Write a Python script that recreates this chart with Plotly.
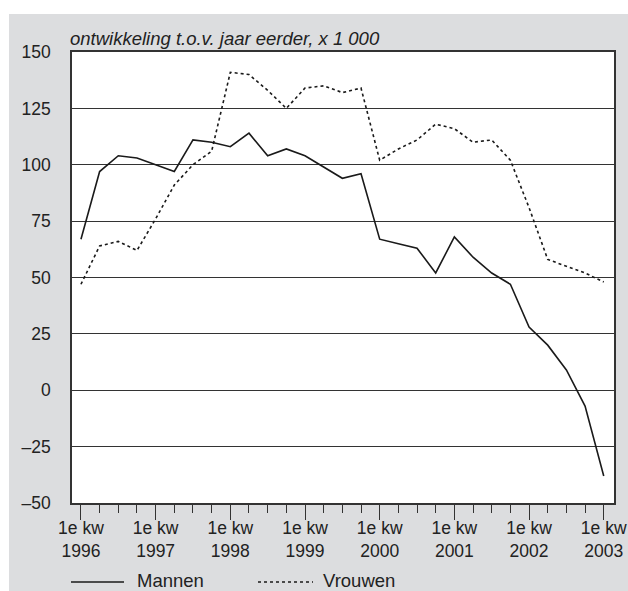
import plotly.graph_objects as go

# kwartalen 1996 kw1 t/m 2003 kw1
kwartaal = list(range(29))
jaren = ["1996", "1997", "1998", "1999", "2000", "2001", "2002", "2003"]

mannen = [67, 97, 104, 103, 100, 97, 111, 110, 108, 114, 104, 107, 104, 99, 94, 96,
          67, 65, 63, 52, 68, 59, 52, 47, 28, 20, 9, -7, -38]
vrouwen = [47, 64, 66, 62, 76, 91, 100, 106, 141, 140, 133, 125, 134, 135, 132, 134,
           102, 107, 111, 118, 116, 110, 111, 102, 81, 58, 55, 52, 48]

y_ticks = [-50, -25, 0, 25, 50, 75, 100, 125, 150]
y_labels = ["–50", "–25", "0", "25", "50", "75", "100", "125", "150"]

GRIJS = "#dcdddf"
INKT = "#222222"

W, H = 628, 591
L, R, T, B = 72, 14, 52, 88
pw, ph = W - L - R, H - T - B


def px_x(x):
    return (x - L) / pw


def px_y(y):
    return (H - B - y) / ph


fig = go.Figure()
fig.add_trace(go.Scatter(x=kwartaal, y=mannen, mode="lines", name="Mannen",
                         line=dict(color="#1a1a1a", width=1.6)))
fig.add_trace(go.Scatter(x=kwartaal, y=vrouwen, mode="lines", name="Vrouwen",
                         line=dict(color="#1a1a1a", width=1.6, dash="3px,3px")))

shapes = [
    # witte rand boven en links
    dict(type="rect", xref="paper", yref="paper", x0=px_x(0), x1=px_x(W), y0=px_y(14), y1=px_y(0),
         fillcolor="white", line_width=0, layer="below"),
    dict(type="rect", xref="paper", yref="paper", x0=px_x(0), x1=px_x(9), y0=px_y(H), y1=px_y(0),
         fillcolor="white", line_width=0, layer="below"),
    # legenda
    dict(type="line", xref="paper", yref="paper", x0=px_x(71), x1=px_x(124), y0=px_y(582), y1=px_y(582),
         line=dict(color="#1a1a1a", width=1.6)),
    dict(type="line", xref="paper", yref="paper", x0=px_x(258), x1=px_x(313), y0=px_y(582), y1=px_y(582),
         line=dict(color="#1a1a1a", width=1.6, dash="3px,3px")),
]

annotations = [
    dict(text="<i>ontwikkeling t.o.v. jaar eerder, x 1 000</i>", xref="paper", yref="paper",
         x=px_x(68), y=px_y(38), xanchor="left", yanchor="middle", showarrow=False,
         font=dict(size=18.5, color=INKT)),
    dict(text="Mannen", xref="paper", yref="paper", x=px_x(135), y=px_y(580),
         xanchor="left", yanchor="middle", showarrow=False, font=dict(size=18.5, color=INKT)),
    dict(text="Vrouwen", xref="paper", yref="paper", x=px_x(321), y=px_y(580),
         xanchor="left", yanchor="middle", showarrow=False, font=dict(size=18.5, color=INKT)),
]

fig.update_layout(
    width=W, height=H,
    margin=dict(l=L, r=R, t=T, b=B),
    paper_bgcolor=GRIJS, plot_bgcolor="white",
    font=dict(family="Liberation Sans, Arial, sans-serif", size=17.5, color=INKT),
    showlegend=False,
    shapes=shapes,
    annotations=annotations,
)

fig.update_xaxes(
    range=[-0.48, 28.55],
    tickvals=kwartaal[::4],
    ticktext=["1e kw<br>" + j for j in jaren],
    ticks="outside", ticklen=15, tickwidth=1.2, tickcolor="#333",
    ticklabelstandoff=-7,
    minor=dict(dtick=1, tick0=0, ticks="outside", ticklen=8, tickwidth=1.2, tickcolor="#333"),
    showgrid=False, zeroline=False, automargin=False,
    showline=True, mirror=True, linecolor="#333", linewidth=1.5,
)
fig.update_yaxes(
    range=[-50, 150],
    tickvals=y_ticks, ticktext=y_labels,
    ticks="", ticklabelstandoff=16,
    showgrid=True, gridcolor="#333", gridwidth=1.2,
    zeroline=False, automargin=False,
    showline=True, mirror=True, linecolor="#333", linewidth=1.5,
)

# pagina zonder body-marge, zodat de figuur in de hoek begint
fig.write_html("out.html", config={"displayModeBar": False},
               post_script="document.body.style.margin = '0';")
